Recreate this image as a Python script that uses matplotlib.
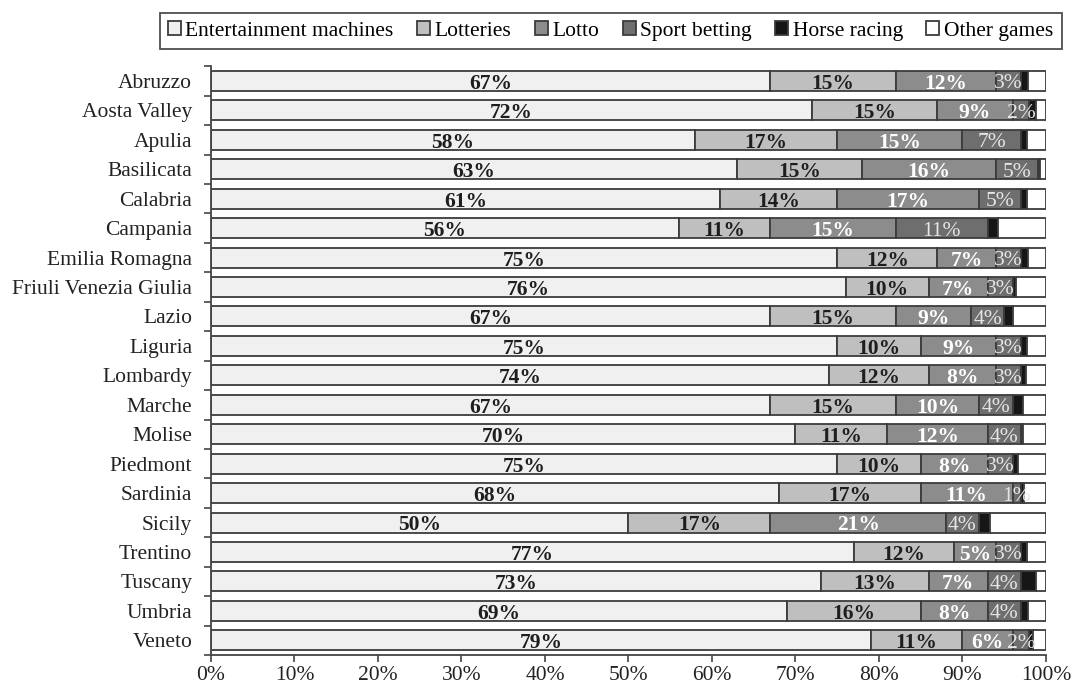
import numpy as np
import matplotlib.pyplot as plt
from matplotlib.ticker import FixedLocator, PercentFormatter

plt.rcParams['font.family'] = ['Liberation Serif', 'DejaVu Serif']

# Quote di spesa per tipologia di gioco, per regione
regions = ['Abruzzo', 'Aosta Valley', 'Apulia', 'Basilicata', 'Calabria', 'Campania',
           'Emilia Romagna', 'Friuli Venezia Giulia', 'Lazio', 'Liguria', 'Lombardy',
           'Marche', 'Molise', 'Piedmont', 'Sardinia', 'Sicily', 'Trentino', 'Tuscany',
           'Umbria', 'Veneto']
machines = [67, 72, 58, 63, 61, 56, 75, 76, 67, 75, 74, 67, 70, 75, 68, 50, 77, 73, 69, 79]
lotteries = [15, 15, 17, 15, 14, 11, 12, 10, 15, 10, 12, 15, 11, 10, 17, 17, 12, 13, 16, 11]
lotto = [12, 9, 15, 16, 17, 15, 7, 7, 9, 9, 8, 10, 12, 8, 11, 21, 5, 7, 8, 6]
sport = [3, 2, 7, 5, 5, 11, 3, 3, 4, 3, 3, 4, 4, 3, 1, 4, 3, 4, 4, 2]
horse = [0.8, 0.8, 0.7, 0.3, 0.7, 1.3, 0.8, 0.4, 1.1, 0.7, 0.6, 1.3, 0.3, 0.7, 0.4, 1.3,
         0.7, 1.8, 0.8, 0.4]

series = [np.array(machines, float), np.array(lotteries, float), np.array(lotto, float),
          np.array(sport, float), np.array(horse, float)]
other = 100 - sum(series)
series.append(other)

names = ['Entertainment machines', 'Lotteries', 'Lotto', 'Sport betting',
         'Horse racing', 'Other games']
colors = ['#f0f0f0', '#bfbfbf', '#8c8c8c', '#6e6e6e', '#161616', '#ffffff']
# colore / peso delle etichette per ogni serie (None = senza etichetta)
lab_style = [('#1e1e1e', 'bold'), ('#1e1e1e', 'bold'), ('#ffffff', 'bold'),
             ('#e6e6e6', 'normal'), None, None]

fig = plt.figure(figsize=(10.73, 6.9), dpi=100)
ax = fig.add_axes([0.1966, 0.0507, 0.7782, 0.8533])

y = np.arange(len(regions))
left = np.zeros(len(regions))
for vals, name, col, st in zip(series, names, colors, lab_style):
    ax.barh(y, vals, left=left, height=0.68, color=col, edgecolor='#3c3c3c',
            linewidth=1.3, label=name)
    if st is not None:
        for yi, l, v in zip(y, left, vals):
            ax.text(l + v / 2, yi + 0.1, f'{v:.0f}%', ha='center', va='center',
                    fontsize=15.5, color=st[0], fontweight=st[1])
    left += vals

ax.set_xlim(0, 100)
ax.set_ylim(len(regions) - 0.5, -0.5)
ax.set_yticks(y)
ax.set_yticklabels(regions, fontsize=15.5, color='#222222')
ax.yaxis.set_minor_locator(FixedLocator(np.arange(-0.5, len(regions), 1)))
ax.tick_params(axis='y', which='major', length=0, pad=13.5)
ax.tick_params(axis='y', which='minor', length=5, width=1.2, color='#444444')
ax.set_xticks(np.arange(0, 101, 10))
ax.xaxis.set_major_formatter(PercentFormatter(decimals=0))
ax.tick_params(axis='x', labelsize=15.5, length=5, width=1.2, color='#444444',
               labelcolor='#222222', pad=3)
for s in ['top', 'right']:
    ax.spines[s].set_visible(False)
for s in ['left', 'bottom']:
    ax.spines[s].set_color('#444444')
    ax.spines[s].set_linewidth(1.3)

leg = fig.legend(loc='center', bbox_to_anchor=(0.569, 0.955), ncol=6, fontsize=15.5,
                 frameon=True, fancybox=False, handlelength=0.6, handleheight=0.6,
                 handletextpad=0.2, columnspacing=1.1, borderpad=0.4)
leg.get_frame().set_edgecolor('#222222')
leg.get_frame().set_linewidth(1.3)

fig.savefig('out.png', dpi=100)
